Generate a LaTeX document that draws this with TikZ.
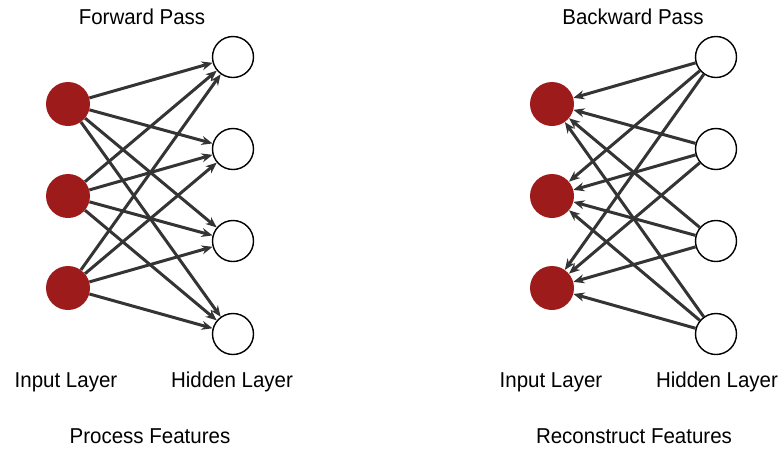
\documentclass[tikz,border=0pt]{standalone}
\usepackage{fontspec}
\setmainfont{Liberation Sans}
\usetikzlibrary{arrows.meta}
\definecolor{inred}{RGB}{158,27,27}
\definecolor{arr}{RGB}{52,52,52}
\tikzset{
  innode/.style={circle,fill=inred,draw=none,minimum size=44pt,inner sep=0pt},
  hidnode/.style={circle,fill=white,draw=black,line width=1.4pt,minimum size=41pt,inner sep=0pt},
  conn/.style={draw=arr,line width=3pt,-{Stealth[length=11pt,width=9pt]}},
  lbl/.style={font=\fontsize{20.5}{24}\selectfont,inner sep=0pt,anchor=center,yscale=1.05}
}
\begin{document}
\begin{tikzpicture}[x=1pt,y=-1pt]
\useasboundingbox (0,0) rectangle (784,448);
% left network
\node[innode] (a1) at (68,104) {};
\node[innode] (a2) at (68,196) {};
\node[innode] (a3) at (68,288) {};
\node[hidnode] (h1) at (233,57) {};
\node[hidnode] (h2) at (233,149) {};
\node[hidnode] (h3) at (233,241) {};
\node[hidnode] (h4) at (233,334) {};
\foreach \i in {1,2,3}{\foreach \j in {1,2,3,4}{\draw[conn] (a\i) -- (h\j);}}
% right network
\node[innode] (b1) at (552,104) {};
\node[innode] (b2) at (552,196) {};
\node[innode] (b3) at (552,288) {};
\node[hidnode] (k1) at (716,57) {};
\node[hidnode] (k2) at (716,149) {};
\node[hidnode] (k3) at (716,241) {};
\node[hidnode] (k4) at (716,334) {};
\foreach \i in {1,2,3}{\foreach \j in {1,2,3,4}{\draw[conn] (k\j) -- (b\i);}}
% labels
\node[lbl] (t1) at (142,17) {Forward Pass};
\node[lbl] (t2) at (633,17) {Backward Pass};
\node[lbl] (l1) at (66,382) {Input Layer};
\node[lbl] (l2) at (232,382) {Hidden Layer};
\node[lbl] (l3) at (551,382) {Input Layer};
\node[lbl] (l4) at (717,382) {Hidden Layer};
\node[lbl] (f1) at (150,436) {Process Features};
\node[lbl] (f2) at (634,436) {Reconstruct Features};
\end{tikzpicture}
\end{document}
